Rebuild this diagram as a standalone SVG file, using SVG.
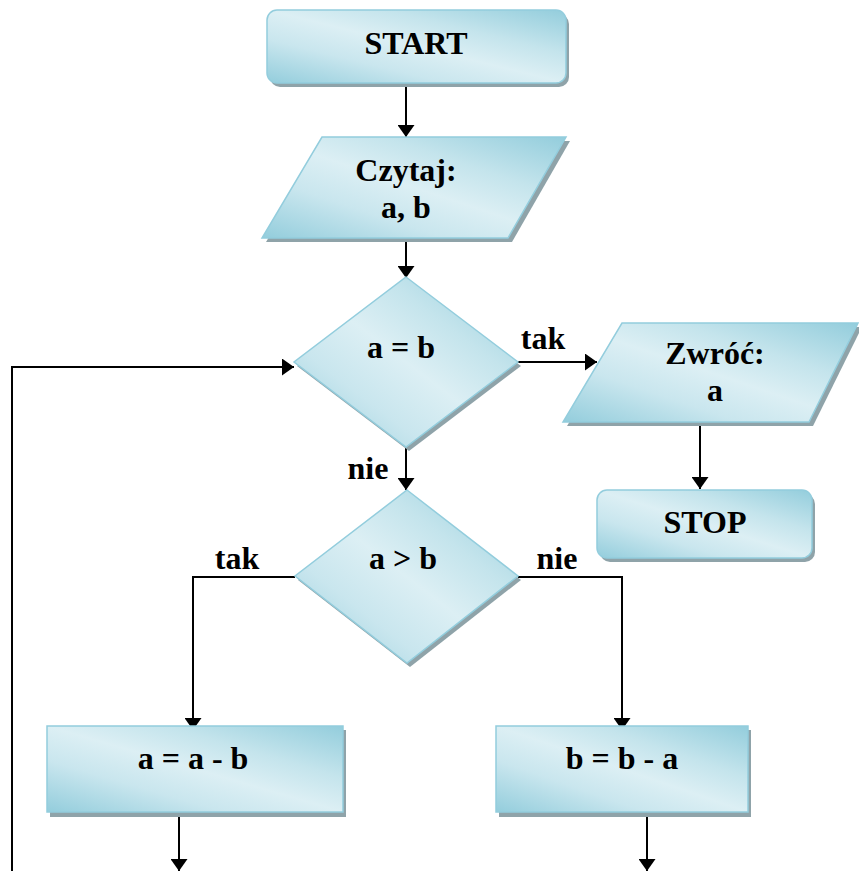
<svg xmlns="http://www.w3.org/2000/svg" width="859" height="871" viewBox="0 0 859 871">
<defs>
<linearGradient id="g" x1="0" y1="1" x2="1" y2="0">
<stop offset="0" stop-color="#93CDDC"/>
<stop offset="0.3" stop-color="#C9E6EE"/>
<stop offset="0.5" stop-color="#DCEFF4"/>
<stop offset="0.7" stop-color="#C4E4EC"/>
<stop offset="1" stop-color="#93CDDC"/>
</linearGradient>
<marker id="arr" viewBox="0 0 12 17" refX="12" refY="8.5" markerWidth="12" markerHeight="17" markerUnits="userSpaceOnUse" orient="auto">
<path d="M0,0 L12,8.5 L0,17 Z" fill="#000"/>
</marker>
</defs>
<style>
.sh{fill:#8FA3A9;}
.bx{fill:url(#g);stroke:#93CDDD;stroke-width:1.5;}
.t{font-family:"Liberation Serif","Times New Roman",serif;font-weight:bold;font-size:32px;fill:#000;text-anchor:middle;}
.c{fill:none;stroke:#000;stroke-width:2;}
</style>
<g id="connectors">
<path class="c" d="M406,83 V137" marker-end="url(#arr)"/>
<path class="c" d="M406,239 V278" marker-end="url(#arr)"/>
<path class="c" d="M518,362 H597" marker-end="url(#arr)"/>
<path class="c" d="M700,423 V489" marker-end="url(#arr)"/>
<path class="c" d="M406,448 V490" marker-end="url(#arr)"/>
<path class="c" d="M295,577 H193 V730" marker-end="url(#arr)"/>
<path class="c" d="M518,577 H622 V730" marker-end="url(#arr)"/>
<path class="c" d="M179,812 V871" marker-end="url(#arr)"/>
<path class="c" d="M647,812 V871" marker-end="url(#arr)"/>
<path class="c" d="M12,871 V367 H294" marker-end="url(#arr)"/>
<text class="t" x="543" y="349">tak</text>
<text class="t" x="368" y="479">nie</text>
<text class="t" x="237" y="569">tak</text>
<text class="t" x="557" y="569">nie</text>
</g>
<g id="start">
<rect class="sh" x="270" y="14" width="299" height="73" rx="10"/>
<rect class="bx" x="267" y="10" width="299" height="73" rx="10"/>
<text class="t" x="416" y="54">START</text>
</g>
<g id="czytaj">
<polygon class="sh" points="326,141 570,141 512,242 266,242"/>
<polygon class="bx" points="322,137 566,137 508,238 262,238"/>
<text class="t" x="406" y="181">Czytaj:</text>
<text class="t" x="406" y="218">a, b</text>
</g>
<g id="cond1">
<polygon class="sh" points="409,281 521,366 409,451 297,366"/>
<polygon class="bx" points="406,277 518,362 406,447 294,362"/>
<text class="t" x="401" y="358">a = b</text>
</g>
<g id="zwroc">
<polygon class="sh" points="626,327 862,327 813,426 567,426"/>
<polygon class="bx" points="622,323 858,323 809,422 563,422"/>
<text class="t" x="715" y="364">Zwróć:</text>
<text class="t" x="715" y="401">a</text>
</g>
<g id="stop">
<rect class="sh" x="600" y="494" width="215" height="68" rx="10"/>
<rect class="bx" x="597" y="490" width="215" height="68" rx="10"/>
<text class="t" x="705" y="533">STOP</text>
</g>
<g id="cond2">
<polygon class="sh" points="410,494 521,580 410,667 298,580"/>
<polygon class="bx" points="407,490 518,576 407,663 295,576"/>
<text class="t" x="403" y="569">a &gt; b</text>
</g>
<g id="sub1">
<rect class="sh" x="50" y="730" width="296" height="87"/>
<rect class="bx" x="47" y="726" width="296" height="86"/>
<text class="t" x="193" y="769">a = a - b</text>
</g>
<g id="sub2">
<rect class="sh" x="499" y="730" width="252" height="87"/>
<rect class="bx" x="496" y="726" width="252" height="86"/>
<text class="t" x="622" y="769">b = b - a</text>
</g>
</svg>
